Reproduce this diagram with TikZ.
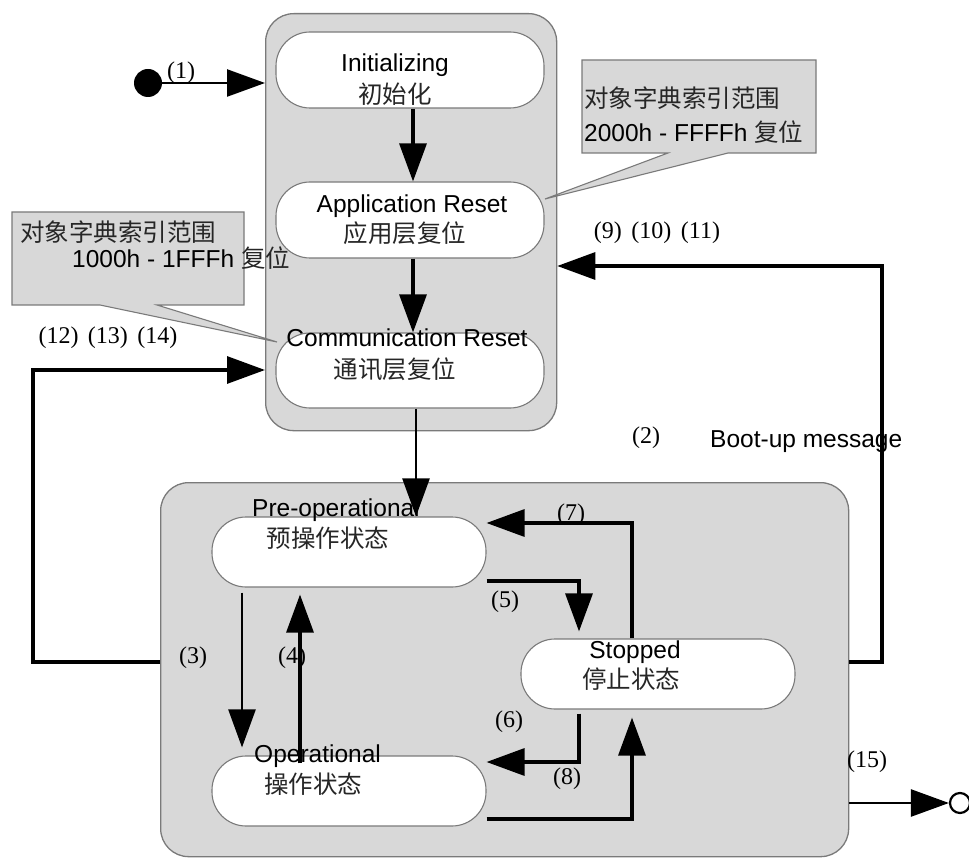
\documentclass[tikz,border=0pt]{standalone}
\usepackage{fontspec}
\setmainfont{Liberation Sans}
\newfontfamily\cjk{Noto Sans CJK SC}
\newfontfamily\numf{Liberation Serif}
\usetikzlibrary{arrows.meta}
\definecolor{grp}{HTML}{D8D8D8}
\definecolor{bord}{HTML}{7A7A7A}
\definecolor{zhc}{HTML}{262626}
\begin{document}
\begin{tikzpicture}[x=1pt,y=-1pt,
  grpbox/.style={draw=bord, fill=grp, line width=1.3pt, rounded corners=28pt, inner sep=0, anchor=north west},
  statebox/.style={draw=bord, fill=white, line width=1.1pt, rounded corners=34pt, inner sep=0},
  callout/.style={draw=bord, fill=grp, line width=1.1pt},
  en/.style={font=\fontsize{24.5}{28}\selectfont, inner sep=0},
  zh/.style={font=\cjk\fontsize{24.5}{28}\selectfont, inner sep=0, text=zhc},
  num/.style={font=\numf\fontsize{24}{28}\selectfont, inner sep=0},
  arr/.style={-{Triangle[length=38pt,width=27pt]}, line width=3.2pt},
  arrthin/.style={-{Triangle[length=38pt,width=27pt]}, line width=2.5pt}
]
\useasboundingbox (0,0) rectangle (969,858);

% groups
\node[grpbox, minimum width=291pt, minimum height=417pt] (topgrp) at (265,13) {};
\node[grpbox, minimum width=688pt, minimum height=374pt] (botgrp) at (160,482) {};

% callouts
\draw[callout] (12,212) -- (244,212) -- (244,305) -- (157,305) -- (277,342) -- (100,305) -- (12,305) -- cycle;
\draw[callout] (582,60) -- (816,60) -- (816,153) -- (728,153) -- (545,199) -- (668,153) -- (582,153) -- cycle;

% states
\node[statebox, minimum width=268pt, minimum height=76pt] (init) at (410,70) {};
\node[statebox, minimum width=268pt, minimum height=76pt] (app) at (410,220) {};
\node[statebox, minimum width=268pt, minimum height=75pt] (comm) at (410,370.5) {};
\node[statebox, minimum width=274pt, minimum height=70pt] (preop) at (349,552) {};
\node[statebox, minimum width=274pt, minimum height=70pt] (op) at (349,791) {};
\node[statebox, minimum width=274pt, minimum height=70pt] (stop) at (658,674) {};

% pseudo states
\node[circle, fill=black, inner sep=0, minimum size=28pt] (start) at (148,83) {};
\node[circle, draw=black, line width=2.2pt, inner sep=0, minimum size=20pt] (end) at (960,803) {};

% texts in states
\node[en, anchor=base] (tinit) at (395,72) {Initializing};
\node[zh, anchor=base] (zinit) at (395,104) {初始化};
\node[en, anchor=base] (tapp) at (412,213) {Application Reset};
\node[zh, anchor=base] (zapp) at (405,243) {应用层复位};
\node[en, anchor=base] (tcomm) at (407,347) {Communication Reset};
\node[zh, anchor=base] (zcomm) at (395,378) {通讯层复位};
\node[en, anchor=base west] (tpre) at (252,516) {Pre-operational};
\node[zh, anchor=base] (zpre) at (328,547) {预操作状态};
\node[en, anchor=base west] (top) at (254,762) {Operational};
\node[zh, anchor=base] (zop) at (313,793) {操作状态};
\node[en, anchor=base] (tstop) at (635,658) {Stopped};
\node[zh, anchor=base] (zstop) at (631,688) {停止状态};

% callout texts
\node[zh, anchor=base west] (cl1) at (20,242) {对象字典索引范围};
\node[en, anchor=base west] (cl2) at (72,268) {1000h - 1FFFh {\cjk\fontsize{24.5}{28}\selectfont\color{zhc}复位}};
\node[zh, anchor=base west] (cr1) at (584,108) {对象字典索引范围};
\node[en, anchor=base west] (cr2) at (584,142) {2000h - FFFFh {\cjk\fontsize{24.5}{28}\selectfont\color{zhc}复位}};

% coordinates for bends
\coordinate (ax) at (413,0);
\coordinate (bx) at (416,0);
\coordinate (L1) at (33,662);
\coordinate (L2) at (33,370);
\coordinate (R1) at (882,662);
\coordinate (R2) at (882,266);
\coordinate (x3) at (242,0);
\coordinate (x4) at (300,0);
\coordinate (c5) at (579,581);
\coordinate (c7) at (632,523);
\coordinate (c6) at (579,762);
\coordinate (c8) at (632,819);

% connectors
\draw[arrthin] (start) -- (topgrp.west |- start);
\draw[arr] (init.south -| ax) -- (app.north -| ax);
\draw[arr] (app.south -| ax) -- (comm.north -| ax);
\draw[arrthin] (comm.south -| bx) -- (preop.north -| bx);
\draw[arr] (botgrp.west |- L1) -- (L1) -- (L2) -- (topgrp.west |- L2);
\draw[arr] (botgrp.east |- R1) -- (R1) -- (R2) -- (topgrp.east |- R2);
\draw[arrthin, shorten <=5pt, shorten >=8pt] (preop.south -| x3) -- (op.north -| x3);
\draw[arr, shorten >=7pt, shorten <=-8pt] (op.north -| x4) -- (preop.south -| x4);
\draw[arr, shorten >=7pt] (preop.east |- c5) -- (c5) -- (stop.north -| c5);
\draw[arr] (stop.north -| c7) -- (c7) -- (preop.east |- c7);
\draw[arr, shorten <=4pt] (stop.south -| c6) -- (c6) -- (op.east |- c6);
\draw[arr, shorten >=8pt] (op.east |- c8) -- (c8) -- (stop.south -| c8);
\draw[arrthin] (botgrp.east |- end) -- (end.west);

% labels
\node[num] (l1) at (181,73) {(1)};
\node[num] (l2) at (646,438) {(2)};
\node[en, anchor=base west] (lboot) at (710,447) {Boot-up message};
\node[num] (l3) at (193,658) {(3)};
\node[num] (l4) at (292,658) {(4)};
\node[num] (l5) at (505,602) {(5)};
\node[num] (l6) at (509,722) {(6)};
\node[num] (l7) at (571,515) {(7)};
\node[num] (l8) at (567,779) {(8)};
\node[num] (l9) at (657,233) {(9)\hspace{9.5pt}(10)\hspace{9.5pt}(11)};
\node[num] (l12) at (108,338) {(12)\hspace{9.5pt}(13)\hspace{9.5pt}(14)};
\node[num] (l15) at (867,762) {(15)};
\end{tikzpicture}
\end{document}
